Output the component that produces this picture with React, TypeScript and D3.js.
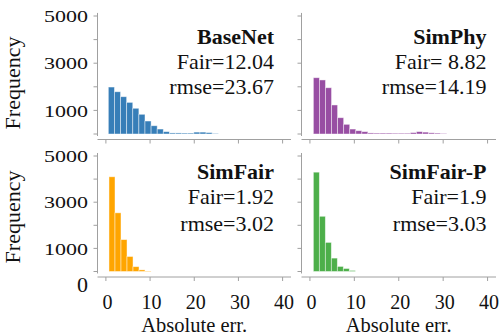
import React from 'react';
import * as d3 from 'd3';

// histogram data
const models = ['BaseNet', 'SimPhy', 'SimFair', 'SimFair-P'];
const fairText = ['Fair=12.04', 'Fair= 8.82', 'Fair=1.92', 'Fair=1.9'];
const rmseText = ['rmse=23.67', 'rmse=14.19', 'rmse=3.02', 'rmse=3.03'];
const binStart = [0.55, 0.77, 0.7, 0.77];
const binWidth = [1.383, 1.365, 1.36, 1.35];
const baseNetCounts = [1990, 1790, 1580, 1340, 1090, 835, 550, 350, 210, 100, 45, 45, 40, 40, 80, 80, 60, 20];
const simPhyCounts = [2385, 2290, 1960, 1230, 690, 410, 210, 140, 100, 45, 40, 40, 40, 35, 35, 35, 60, 100, 80, 50, 40, 20];
const simFairCounts = [4100, 2540, 1380, 650, 210, 70, 20];
const simFairPCounts = [4300, 2390, 1260, 580, 220, 130, 45];
const allCounts = [baseNetCounts, simPhyCounts, simFairCounts, simFairPCounts];
const colors = ['#377eb8', '#984ea3', '#ffa500', '#4daf4a'];
const yTicks = [0, 1000, 2000, 3000, 4000, 5000];
const yTickLabels = ['', '1000', '', '3000', '', '5000'];
const xTicks = [0, 10, 20, 30, 40];

const FONT = '"Liberation Serif", "Times New Roman", serif';
const AXIS = '#a0a0a0';

// column / row geometry
const colRange = [[97.5, 291], [301.5, 496]];
const textRight = [274, 486.5];
const rowRange = [[134, 16], [271.5, 156]];
const rowText = [[43.5, 68.5, 94], [178.5, 204, 230.5]];

function Panel({ i }: { i: number }) {
  const col = i % 2, row = Math.floor(i / 2);
  const x = d3.scaleLinear().domain([-1.9, 41.9]).range(colRange[col]);
  const y = d3.scaleLinear().domain([0, 5000]).range(rowRange[row]);
  const counts = allCounts[i];
  const x0 = colRange[col][0];
  const spineY = y(0) + 5.5;
  const bins = counts.map((c, k) => ({
    a: binStart[i] + k * binWidth[i],
    b: binStart[i] + (k + 1) * binWidth[i],
    c,
  }));
  return (
    <g>
      {bins.map((d, k) => (
        <rect key={k} x={x(d.a)} width={x(d.b) - x(d.a)} y={y(d.c)} height={y(0) - y(d.c)}
          fill={colors[i]} stroke="white" strokeOpacity={0.55} strokeWidth={0.8} />
      ))}
      {/* left spine */}
      <line x1={x0} x2={x0} y1={y(-85)} y2={y(5130)} stroke={AXIS} strokeWidth={1} />
      {yTicks.map((t, k) => (
        <g key={k}>
          <line x1={x0 - 4} x2={x0} y1={y(t)} y2={y(t)} stroke={AXIS} />
          {col === 0 && yTickLabels[k] !== '' && (
            <text transform={`translate(88,${y(t)}) scale(1,0.8)`} textAnchor="end" dominantBaseline="central"
              fontFamily={FONT} fontSize={22} fill="#111">{yTickLabels[k]}</text>
          )}
        </g>
      ))}
      {col === 0 && row === 1 && (
        <text x={88} y={284} textAnchor="end" dominantBaseline="central" fontFamily={FONT} fontSize={22} fill="#111">0</text>
      )}
      {/* bottom spine */}
      <line x1={colRange[col][0]} x2={colRange[col][1]} y1={spineY} y2={spineY} stroke={AXIS} />
      {xTicks.map(t => (
        <g key={t}>
          <line x1={x(t)} x2={x(t)} y1={spineY} y2={spineY + 4} stroke={AXIS} />
          {row === 1 && (
            <text x={x(t) + 1.5} y={308.8} textAnchor="middle" fontFamily={FONT} fontSize={20} fill="#111">{t}</text>
          )}
        </g>
      ))}
      {row === 1 && (
        <text x={(colRange[col][0] + colRange[col][1]) / 2} y={331.5} textAnchor="middle"
          fontFamily={FONT} fontSize={20.5} fill="#111">Absolute err.</text>
      )}
      {col === 0 && (
        <text transform={`translate(19.5,${row === 0 ? 83 : 217}) rotate(-90)`} textAnchor="middle"
          fontFamily={FONT} fontSize={22} fill="#111">Frequency</text>
      )}
      <text x={textRight[col]} y={rowText[row][0]} textAnchor="end" fontFamily={FONT} fontSize={22}
        fontWeight="bold" fill="#111">{models[i]}</text>
      <text x={textRight[col]} y={rowText[row][1]} textAnchor="end" fontFamily={FONT} fontSize={22}
        fill="#111" style={{ whiteSpace: 'pre' }}>{fairText[i]}</text>
      <text x={textRight[col]} y={rowText[row][2]} textAnchor="end" fontFamily={FONT} fontSize={22}
        fill="#111">{rmseText[i]}</text>
    </g>
  );
}

export default function App() {
  return (
    <svg width={499} height={336} style={{ position: 'absolute', left: 0, top: 0, background: 'white' }}>
      {models.map((m, i) => <Panel key={m} i={i} />)}
    </svg>
  );
}
